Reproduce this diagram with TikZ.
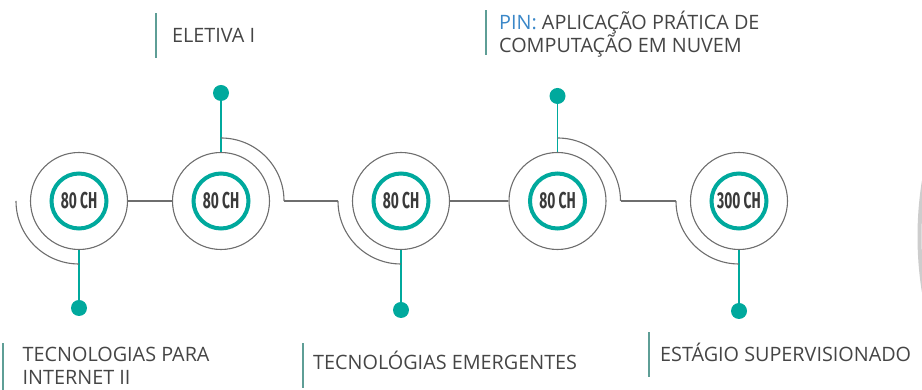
\documentclass[tikz,border=0pt]{standalone}
\usepackage{graphicx}
\usepackage{fontspec}
\setmainfont{Open Sans}
\newfontfamily\chfont{Fira Sans}
\definecolor{teal1}{HTML}{00A99D}
\definecolor{linegray}{HTML}{6E6E6E}
\definecolor{textgray}{HTML}{454545}
\definecolor{chgray}{HTML}{3A3A3A}
\definecolor{bargray}{HTML}{5E9E96}
\definecolor{pinblue}{HTML}{3A87C8}
\definecolor{arcgray}{HTML}{CDCDCD}
\tikzset{
 outer/.style={circle, draw=linegray, line width=1.1pt, minimum size=97pt, inner sep=0pt},
 ring/.style={circle, draw=teal1, line width=4pt, minimum size=55pt, inner sep=0pt,
   font=\chfont\bfseries\fontsize{23}{23}\selectfont, text=chgray},
 dot/.style={circle, fill=teal1, minimum size=16pt, inner sep=0pt},
 conn/.style={draw=linegray, line width=1.1pt},
 stem/.style={draw=teal1, line width=1.4pt},
 bar/.style={draw=bargray, line width=2pt},
 lbl/.style={anchor=base west, inner sep=0pt, text=textgray, font=\fontsize{19.8}{23}\selectfont},
}
\begin{document}
\begin{tikzpicture}[x=1pt,y=1pt]
\useasboundingbox (0,0) rectangle (922,390);
% circles
\node[outer] (c1) at (79,189) {};
\node[outer] (c2) at (221,189) {};
\node[outer] (c3) at (401,189) {};
\node[outer] (c4) at (557.5,189) {};
\node[outer] (c5) at (739,189) {};
\node[ring] (r1) at (c1.center) {\scalebox{0.6}[1]{80 CH}};
\node[ring] (r2) at (c2.center) {\scalebox{0.6}[1]{80 CH}};
\node[ring] (r3) at (c3.center) {\scalebox{0.6}[1]{80 CH}};
\node[ring] (r4) at (c4.center) {\scalebox{0.6}[1]{80 CH}};
\node[ring] (r5) at (c5.center) {\scalebox{0.6}[1]{300 CH}};
% dots
\node[dot] (d1) at (79,82) {};
\node[dot] (d2) at (221,297) {};
\node[dot] (d3) at (401,80) {};
\node[dot] (d4) at (557.5,294) {};
\node[dot] (d5) at (739,79) {};
% stems
\draw[stem] (c1.south) -- (d1.center);
\draw[stem] (c2.north) -- (d2.center);
\draw[stem] (c3.south) -- (d3.center);
\draw[stem] (c4.north) -- (d4.center);
\draw[stem] (c5.south) -- (d5.center);
% arcs
\coordinate (a1) at ([shift={(180:63pt)}]c1.center);
\draw[conn] (a1) arc[start angle=180,end angle=270,radius=63pt];
\coordinate (a2) at ([shift={(90:63pt)}]c2.center);
\coordinate (a2e) at ([shift={(0:63pt)}]c2.center);
\draw[conn] (a2) arc[start angle=90,end angle=0,radius=63pt];
\coordinate (a3) at ([shift={(180:63pt)}]c3.center);
\draw[conn] (a3) arc[start angle=180,end angle=270,radius=63pt];
\coordinate (a4) at ([shift={(90:63pt)}]c4.center);
\coordinate (a4e) at ([shift={(0:63pt)}]c4.center);
\draw[conn] (a4) arc[start angle=90,end angle=0,radius=63pt];
\coordinate (a5) at ([shift={(180:63pt)}]c5.center);
\draw[conn] (a5) arc[start angle=180,end angle=270,radius=63pt];
% connectors
\draw[conn] (c1) -- (c2);
\draw[conn] (a2e) -- (a3);
\draw[conn] (c3) -- (c4);
\draw[conn] (a4e) -- (a5);
% labels
\draw[bar] (156,332) -- (156,377);
\node[lbl] (t2) at (172,347) {ELETIVA I};
\draw[bar] (486,335) -- (486,380);
\node[lbl] (t4a) at (499,360) {\textcolor{pinblue}{PIN:} APLICAÇÃO PRÁTICA DE};
\node[lbl] (t4b) at (499,337) {COMPUTAÇÃO EM NUVEM};
\draw[bar] (3,0) -- (3,47);
\node[lbl] (t1a) at (22.5,28) {TECNOLOGIAS PARA};
\node[lbl] (t1b) at (22.5,5) {INTERNET II};
\draw[bar] (303,2) -- (303,47);
\node[lbl] (t3) at (313,20) {TECNOLÓGIAS EMERGENTES};
\draw[bar] (649,13) -- (649,58);
\node[lbl] (t5) at (660,28) {ESTÁGIO SUPERVISIONADO};
% right edge arc
\begin{scope}
\clip (0,0) rectangle (922,390);
\draw[line width=4pt, draw=arcgray] (1274.5,153.5) ++(171:355pt) arc[start angle=171,end angle=189,radius=355pt];
\end{scope}
\end{tikzpicture}
\end{document}
